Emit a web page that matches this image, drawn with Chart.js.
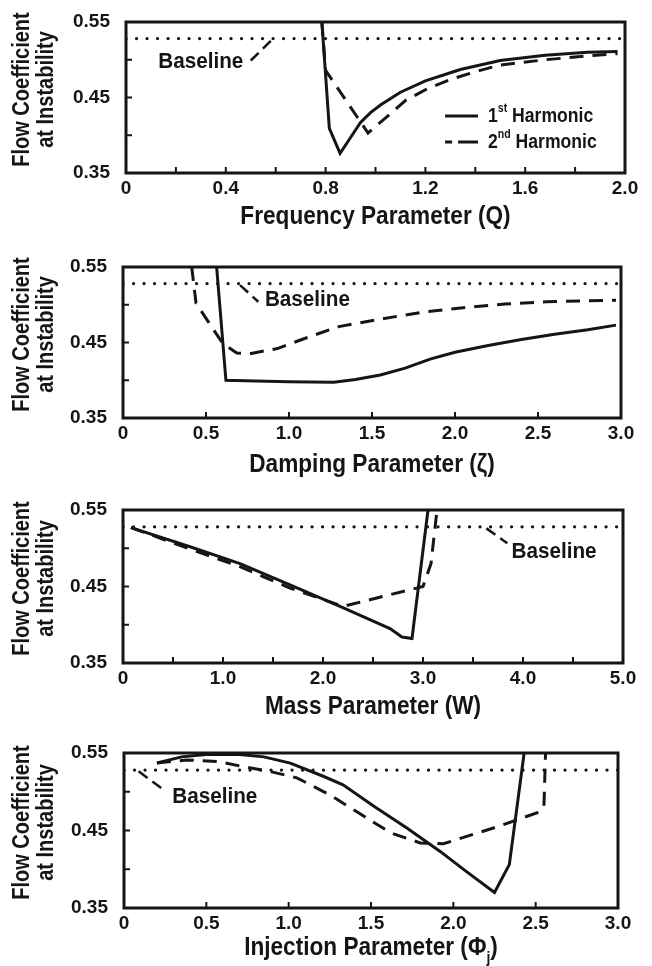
<!DOCTYPE html>
<html>
<head>
<meta charset="utf-8">
<script src="https://cdn.jsdelivr.net/npm/chart.js@4.4.1/dist/chart.umd.min.js"></script>
<style>
  html, body { margin: 0; padding: 0; background: #fff; }
  #page { position: relative; width: 652px; height: 966px; }
  #page canvas { position: absolute; left: 0; }
</style>
</head>
<body>
<div id="page">
  <canvas id="freq" width="652" height="236" style="top:0px"></canvas>
  <canvas id="damp" width="652" height="244" style="top:236px"></canvas>
  <canvas id="mass" width="652" height="242" style="top:480px"></canvas>
  <canvas id="inj"  width="652" height="244" style="top:722px"></canvas>
</div>
<script>
// flow coefficient at instability, shared by all four panels
const baselineFlow = 0.528;
const flowTickLabels = ['0.35', '', '0.45', '', '0.55'];

// frequency parameter Q
const freqTickLabels = ['0', '', '0.4', '', '0.8', '', '1.2', '', '1.6', '', '2.0'];
const freq1stX = [0.785, 0.815, 0.858, 0.90, 0.94, 0.98, 1.02, 1.10, 1.20, 1.34, 1.50, 1.68, 1.85, 1.97];
const freq1stY = [0.550, 0.409, 0.376, 0.397, 0.417, 0.430, 0.440, 0.457, 0.472, 0.487, 0.499, 0.506, 0.510, 0.511];
const freq2ndX = [0.785, 0.80, 0.97, 1.03, 1.12, 1.21, 1.31, 1.42, 1.50, 1.68, 1.85, 1.97];
const freq2ndY = [0.550, 0.486, 0.403, 0.420, 0.446, 0.462, 0.475, 0.486, 0.493, 0.500, 0.505, 0.508];

// damping parameter zeta
const dampTickLabels = ['0', '0.5', '1.0', '1.5', '2.0', '2.5', '3.0'];
const damp1stX = [0.564, 0.62, 0.80, 1.00, 1.27, 1.40, 1.55, 1.70, 1.85, 2.00, 2.20, 2.40, 2.60, 2.80, 2.97];
const damp1stY = [0.550, 0.400, 0.399, 0.398, 0.3975, 0.401, 0.407, 0.416, 0.428, 0.437, 0.446, 0.454, 0.461, 0.467, 0.473];
const damp2ndX = [0.414, 0.44, 0.60, 0.685, 0.76, 0.93, 1.09, 1.30, 1.55, 1.80, 2.05, 2.30, 2.55, 2.97];
const damp2ndY = [0.550, 0.502, 0.449, 0.436, 0.435, 0.442, 0.455, 0.471, 0.481, 0.490, 0.496, 0.501, 0.504, 0.506];

// mass parameter W
const massTickLabels = ['0', '', '1.0', '', '2.0', '', '3.0', '', '4.0', '', '5.0'];
const mass1stX = [0.08, 0.67, 1.17, 1.67, 2.17, 2.67, 2.79, 2.89, 3.05];
const mass1stY = [0.527, 0.502, 0.480, 0.452, 0.424, 0.395, 0.384, 0.382, 0.550];
const mass2ndX = [0.08, 0.67, 1.17, 1.40, 1.67, 2.20, 2.60, 3.00, 3.08, 3.14];
const mass2ndY = [0.527, 0.499, 0.476, 0.463, 0.448, 0.424, 0.437, 0.450, 0.480, 0.550];

// injection parameter Phi_j
const injTickLabels = ['0', '0.5', '1.0', '1.5', '2.0', '2.5', '3.0'];
const inj1stX = [0.20, 0.35, 0.50, 0.70, 0.85, 1.01, 1.21, 1.33, 1.52, 1.72, 1.92, 2.08, 2.25, 2.34, 2.43];
const inj1stY = [0.537, 0.545, 0.548, 0.548, 0.545, 0.537, 0.520, 0.509, 0.481, 0.453, 0.423, 0.397, 0.370, 0.406, 0.550];
const inj2ndX = [0.20, 0.38, 0.57, 0.71, 0.89, 1.05, 1.25, 1.46, 1.62, 1.80, 1.94, 2.12, 2.27, 2.51, 2.55, 2.56];
const inj2ndY = [0.537, 0.541, 0.539, 0.533, 0.526, 0.518, 0.496, 0.468, 0.447, 0.434, 0.433, 0.445, 0.455, 0.473, 0.480, 0.550];

const INK = '#151515';
const FONT = "'Liberation Sans', Arial, Helvetica, sans-serif";
const yTitle = ['Flow Coefficient', 'at Instability'];

function pts(xs, ys) {
  return xs.map((x, i) => ({ x: x, y: ys[i] }));
}

// text made of pieces (plain, superscript or subscript), squeezed by sx
function drawRich(ctx, parts, x, y, size, align, sx) {
  const fontOf = p => p[1] ? `bold ${Math.round(size * 0.62)}px ${FONT}` : `bold ${size}px ${FONT}`;
  const widths = parts.map(p => { ctx.font = fontOf(p); return ctx.measureText(p[0]).width; });
  const total = widths.reduce((s, w) => s + w, 0) * sx;
  const x0 = align === 'center' ? x - total / 2 : align === 'right' ? x - total : x;
  ctx.save();
  ctx.translate(x0, y);
  ctx.scale(sx, 1);
  ctx.textAlign = 'left';
  let cx = 0;
  parts.forEach((p, i) => {
    ctx.font = fontOf(p);
    const dy = p[1] === 'sup' ? -size * 0.36 : p[1] === 'sub' ? size * 0.3 : 0;
    ctx.fillText(p[0], cx, dy);
    cx += widths[i];
  });
  ctx.restore();
}

const panelArt = {
  id: 'panelArt',
  afterDraw(chart, args, o) {
    const { ctx, chartArea: a } = chart;
    const xs = chart.scales.x, ys = chart.scales.y;
    ctx.save();
    ctx.strokeStyle = INK;
    ctx.fillStyle = INK;
    ctx.setLineDash([]);

    // inward tick marks on the left and bottom edges
    ctx.lineWidth = 2;
    ctx.beginPath();
    xs.ticks.forEach(t => {
      const px = xs.getPixelForValue(t.value);
      ctx.moveTo(px, a.bottom); ctx.lineTo(px, a.bottom - 6);
    });
    ys.ticks.forEach(t => {
      const py = ys.getPixelForValue(t.value);
      ctx.moveTo(a.left, py); ctx.lineTo(a.left + 6, py);
    });
    ctx.stroke();

    // frame
    ctx.lineWidth = 3;
    ctx.strokeRect(a.left, a.top, a.right - a.left, a.bottom - a.top);

    // two-line y title, rotated and slightly condensed
    ctx.save();
    ctx.translate(0, (a.top + a.bottom) / 2 - 8);
    ctx.rotate(-Math.PI / 2);
    ctx.scale(0.87, 1);
    ctx.font = `bold 23px ${FONT}`;
    ctx.textAlign = 'center';
    ctx.textBaseline = 'alphabetic';
    ctx.fillText(yTitle[0], 0, 29);
    ctx.fillText(yTitle[1], 0, 53);
    ctx.restore();

    // x title
    ctx.textBaseline = 'alphabetic';
    drawRich(ctx, o.xTitle, (a.left + a.right) / 2, o.xTitleBase, 26, 'center', 0.87);

    // "Baseline" note
    ctx.textBaseline = 'middle';
    drawRich(ctx, [['Baseline', '']], xs.getPixelForValue(o.note.x), ys.getPixelForValue(o.note.y), 22, o.note.align, 0.94);

    // legend
    (o.legend || []).forEach(item => {
      const py = ys.getPixelForValue(item.y);
      ctx.lineWidth = 3;
      ctx.setLineDash(item.dash);
      ctx.beginPath();
      ctx.moveTo(xs.getPixelForValue(item.x1), py);
      ctx.lineTo(xs.getPixelForValue(item.x2), py);
      ctx.stroke();
      ctx.setLineDash([]);
      ctx.textBaseline = 'middle';
      drawRich(ctx, item.text, xs.getPixelForValue(item.tx), py, 20, 'left', 0.88);
    });
    ctx.restore();
  }
};

function makePanel(id, p) {
  const solid = { data: pts(p.x1, p.y1), borderColor: INK, borderWidth: 3 };
  const dashed = { data: pts(p.x2, p.y2), borderColor: INK, borderWidth: 3, borderDash: [14, 9] };
  const base = {
    data: [{ x: p.xMin, y: baselineFlow }, { x: p.xMax, y: baselineFlow }],
    borderColor: INK, borderWidth: 3.2, borderDash: [0.1, 10.4], borderCapStyle: 'round'
  };
  const leader = { data: p.leader, borderColor: INK, borderWidth: 2.5, borderDash: [11, 6] };

  return new Chart(document.getElementById(id), {
    type: 'line',
    data: { datasets: [base, leader, dashed, solid] },
    options: {
      responsive: false,
      animation: false,
      devicePixelRatio: 1,
      elements: { point: { radius: 0 }, line: { tension: 0, fill: false } },
      layout: { padding: { top: p.top, right: p.right, left: 0, bottom: 0 } },
      plugins: {
        legend: { display: false },
        tooltip: { enabled: false },
        panelArt: { xTitle: p.xTitle, xTitleBase: p.titleBase, note: p.note, legend: p.legend }
      },
      scales: {
        x: {
          type: 'linear', min: p.xMin, max: p.xMax,
          grid: { display: false }, border: { display: false },
          afterFit: s => { s.height = p.xAxisH; },
          ticks: {
            stepSize: p.xStep, autoSkip: false, maxRotation: 0, padding: -4, color: INK,
            font: { family: FONT, size: 19, weight: 'bold' },
            callback: (v, i) => p.xLabels[i]
          }
        },
        y: {
          min: 0.35, max: 0.55,
          grid: { display: false }, border: { display: false },
          afterFit: s => { s.width = p.left; },
          ticks: {
            stepSize: 0.05, autoSkip: false, padding: 8, color: INK,
            font: { family: FONT, size: 19, weight: 'bold' },
            callback: (v, i) => flowTickLabels[i]
          }
        }
      }
    },
    plugins: [panelArt]
  });
}

makePanel('freq', {
  x1: freq1stX, y1: freq1stY, x2: freq2ndX, y2: freq2ndY,
  xMin: 0, xMax: 2, xStep: 0.2, xLabels: freqTickLabels,
  top: 22, right: 27, left: 126, xAxisH: 63, titleBase: 224,
  xTitle: [['Frequency Parameter (Q)', '']],
  leader: [{ x: 0.500, y: 0.499 }, { x: 0.587, y: 0.527 }],
  note: { x: 0.47, y: 0.497, align: 'right' },
  legend: [
    { x1: 1.279, x2: 1.411, tx: 1.451, y: 0.4255, dash: [], text: [['1', ''], ['st', 'sup'], [' Harmonic', '']] },
    { x1: 1.279, x2: 1.411, tx: 1.451, y: 0.391, dash: [7, 6, 20, 40], text: [['2', ''], ['nd', 'sup'], [' Harmonic', '']] }
  ]
});

makePanel('damp', {
  x1: damp1stX, y1: damp1stY, x2: damp2ndX, y2: damp2ndY,
  xMin: 0, xMax: 3, xStep: 0.5, xLabels: dampTickLabels,
  top: 31, right: 31, left: 123, xAxisH: 62, titleBase: 236,
  xTitle: [['Damping Parameter (\u03B6)', '']],
  leader: [{ x: 0.705, y: 0.526 }, { x: 0.815, y: 0.504 }],
  note: { x: 0.855, y: 0.506, align: 'left' }
});

makePanel('mass', {
  x1: mass1stX, y1: mass1stY, x2: mass2ndX, y2: mass2ndY,
  xMin: 0, xMax: 5, xStep: 0.5, xLabels: massTickLabels,
  top: 30, right: 29, left: 123, xAxisH: 59, titleBase: 234,
  xTitle: [['Mass Parameter (W)', '']],
  leader: [{ x: 3.634, y: 0.526 }, { x: 3.843, y: 0.5065 }],
  note: { x: 3.885, y: 0.4955, align: 'left' }
});

makePanel('inj', {
  x1: inj1stX, y1: inj1stY, x2: inj2ndX, y2: inj2ndY,
  xMin: 0, xMax: 3, xStep: 0.5, xLabels: injTickLabels,
  top: 31, right: 34, left: 124, xAxisH: 58, titleBase: 233,
  xTitle: [['Injection Parameter (\u03A6', ''], ['j', 'sub'], [')', '']],
  leader: [{ x: 0.089, y: 0.5263 }, { x: 0.254, y: 0.5005 }],
  note: { x: 0.293, y: 0.4932, align: 'left' }
});
</script>
</body>
</html>
